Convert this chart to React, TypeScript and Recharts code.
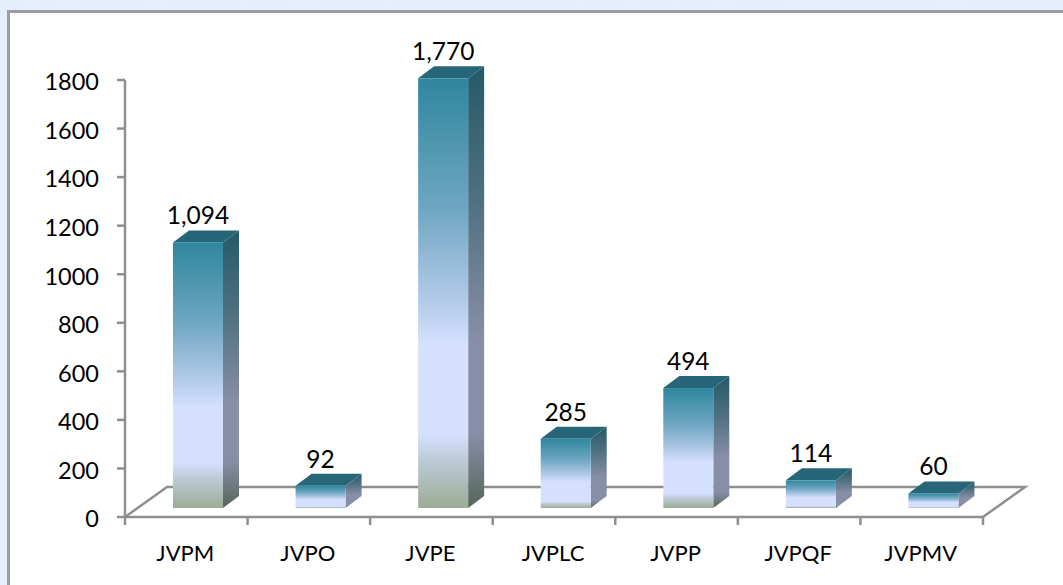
import { Bar, BarChart, LabelList, XAxis, YAxis } from "recharts";

const categories = ["JVPM", "JVPO", "JVPE", "JVPLC", "JVPP", "JVPQF", "JVPMV"];
const values = [1094, 92, 1770, 285, 494, 114, 60];
const yTicks = [0, 200, 400, 600, 800, 1000, 1200, 1400, 1600, 1800];

const data = categories.map((name, i) => ({ name, value: values[i] }));

const fontFamily = "Lato, 'Open Sans', sans-serif";
const axisColor = "#8f8f8f";

// chart frame, front floor edge sits on the x axis
const margin = { top: 80, right: 80, bottom: 0, left: 0 };
const plotLeft = 125;
const plotRight = 983;
const plotBottom = 517;
const floorDx = 42;
const floorDy = 30;
const bandWidth = (plotRight - plotLeft) / categories.length;

// bars stand in the middle of the floor, so they are shifted from the axis position
const shiftX = 12;
const shiftY = -9;
const depthX = 16;
const depthY = 12;

type BarShapeProps = {
  x?: number;
  y?: number;
  width?: number;
  height?: number;
  index?: number;
};

function Bar3D({ x = 0, y = 0, width = 0, height = 0, index = 0 }: BarShapeProps) {
  const l = x + shiftX;
  const t = y + shiftY;
  const r = l + width;
  const b = t + height;
  // the green band at the foot gets thinner on short bars
  const band = Math.min(0.17, 0.05 + height * 0.0006);
  const paleEnd = 1 - band;
  return (
    <g>
      <defs>
        <linearGradient id={`front${index}`} x1="0" y1="0" x2="0" y2="1">
          <stop offset="0" stopColor="#2f869e" />
          <stop offset="0.3" stopColor="#6ea6c2" />
          <stop offset="0.52" stopColor="#b3cbe8" />
          <stop offset="0.62" stopColor="#d5e0ff" />
          <stop offset={paleEnd} stopColor="#d5e0ff" />
          <stop offset={paleEnd + band * 0.35} stopColor="#bccad6" />
          <stop offset="1" stopColor="#9bad96" />
        </linearGradient>
        <linearGradient id={`side${index}`} x1="0" y1="0" x2="0" y2="1">
          <stop offset="0" stopColor="#245a68" />
          <stop offset="0.3" stopColor="#4f7081" />
          <stop offset="0.62" stopColor="#888ea8" />
          <stop offset={paleEnd} stopColor="#888ea8" />
          <stop offset="1" stopColor="#566659" />
        </linearGradient>
      </defs>
      <polygon
        points={`${l},${t} ${l + depthX},${t - depthY} ${r + depthX},${t - depthY} ${r},${t}`}
        fill="#266678"
      />
      <polygon
        points={`${r},${t} ${r + depthX},${t - depthY} ${r + depthX},${b - depthY} ${r},${b}`}
        fill={`url(#side${index})`}
      />
      <rect x={l} y={t} width={width} height={height} fill={`url(#front${index})`} />
    </g>
  );
}

type LabelProps = {
  x?: number;
  y?: number;
  width?: number;
  value?: number;
};

function BarLabel({ x = 0, y = 0, width = 0, value = 0 }: LabelProps) {
  return (
    <text
      x={x + shiftX + width / 2}
      y={y + shiftY - 18}
      textAnchor="middle"
      fontSize={24.5}
      fontFamily={fontFamily}
      fill="#000"
    >
      {value.toLocaleString("en-US")}
    </text>
  );
}

// the tick marks sit between the categories, the label in the middle
function CategoryTick({ x = 0, payload, index = 0 }: any) {
  const left = x - bandWidth / 2;
  const right = x + bandWidth / 2;
  return (
    <g>
      <line x1={left} x2={left} y1={plotBottom} y2={plotBottom + 8} stroke={axisColor} strokeWidth={2.5} />
      {index === categories.length - 1 && (
        <line x1={right} x2={right} y1={plotBottom} y2={plotBottom + 8} stroke={axisColor} strokeWidth={2.5} />
      )}
      <text
        x={x - 1}
        y={plotBottom + 44}
        textAnchor="middle"
        fontSize={22}
        fontFamily={fontFamily}
        fill="#000"
      >
        {payload.value}
      </text>
    </g>
  );
}

export default function App() {
  return (
    <div
      style={{
        position: "absolute",
        left: 0,
        top: 0,
        width: 1063,
        height: 585,
        overflow: "hidden",
      }}
    >
      <svg width={1063} height={585} style={{ position: "absolute", left: 0, top: 0 }}>
        <filter id="mottle">
          <feTurbulence type="fractalNoise" baseFrequency="0.035 0.06" numOctaves={3} seed={4} />
          <feColorMatrix
            values="0 0 0 0 0.78  0 0 0 0 0.86  0 0 0 0 0.96  0.9 0 0 0 0.05"
          />
        </filter>
        <rect width={1063} height={585} fill="#e6f0fa" />
        <rect width={1063} height={585} filter="url(#mottle)" />
      </svg>
      <div
        style={{
          position: "absolute",
          left: 7,
          top: 10,
          width: 1056,
          height: 575,
          background: "#fff",
          borderLeft: "3px solid #9a9da3",
          borderTop: "3px solid #9a9da3",
          boxSizing: "border-box",
        }}
      />
      <div style={{ position: "absolute", left: 0, top: 0 }}>
        <BarChart width={1063} height={585} data={data} margin={margin}>
          <polyline
            points={`${plotLeft},${plotBottom} ${plotLeft + floorDx},${plotBottom - floorDy} ${plotRight + floorDx},${plotBottom - floorDy} ${plotRight},${plotBottom}`}
            fill="none"
            stroke={axisColor}
            strokeWidth={2.5}
          />
          <XAxis
            dataKey="name"
            interval={0}
            height={68}
            tickLine={false}
            stroke={axisColor}
            strokeWidth={2.5}
            tick={<CategoryTick />}
          />
          <YAxis
            width={125}
            domain={[0, 1800]}
            ticks={yTicks}
            tickSize={8}
            tickMargin={18}
            stroke={axisColor}
            strokeWidth={2.5}
            tick={{ fontSize: 23.5, fontFamily, fill: "#000", dy: 2 }}
          />
          <Bar dataKey="value" barSize={50} shape={<Bar3D />} isAnimationActive={false}>
            <LabelList dataKey="value" content={(p: any) => <BarLabel {...p} />} />
          </Bar>
        </BarChart>
      </div>
    </div>
  );
}
